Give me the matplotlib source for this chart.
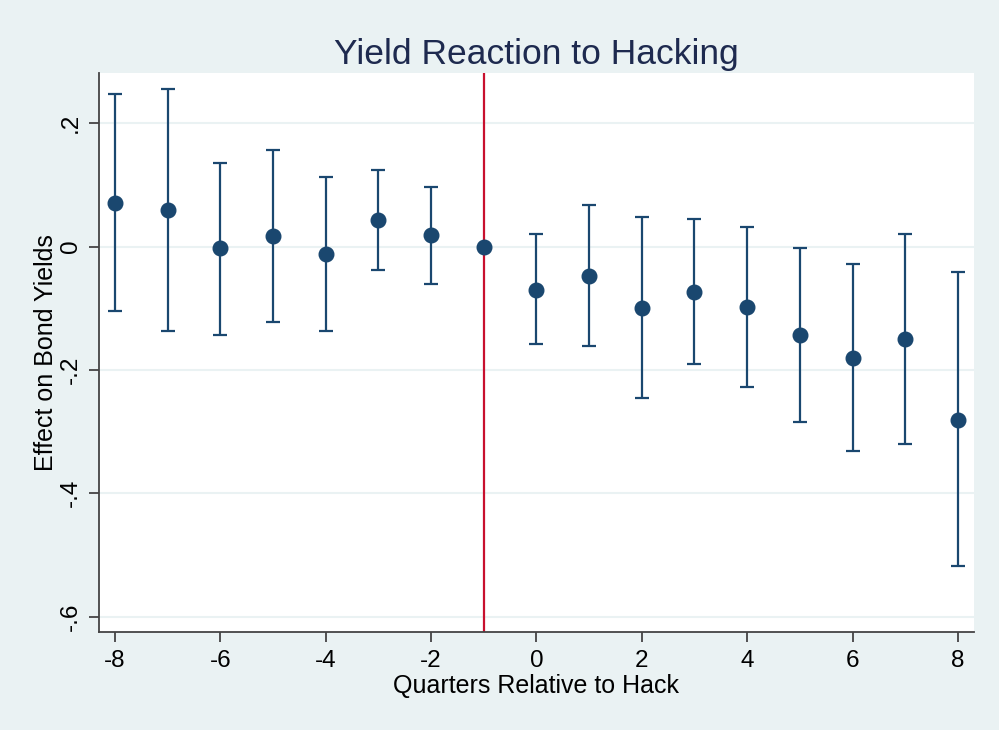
import matplotlib
matplotlib.use("Agg")
import matplotlib.pyplot as plt

# event-study estimates
quarters = [-8, -7, -6, -5, -4, -3, -2, -1, 0, 1, 2, 3, 4, 5, 6, 7, 8]
coef = [0.071, 0.060, -0.003, 0.017, -0.012, 0.043, 0.018, 0.0,
        -0.070, -0.047, -0.099, -0.073, -0.098, -0.143, -0.180, -0.150, -0.281]
ci_hi = [0.248, 0.256, 0.136, 0.156, 0.113, 0.125, 0.097, 0.0,
         0.020, 0.067, 0.048, 0.045, 0.032, -0.002, -0.028, 0.021, -0.042]
ci_lo = [-0.105, -0.137, -0.143, -0.122, -0.137, -0.038, -0.060, 0.0,
         -0.158, -0.161, -0.246, -0.190, -0.228, -0.284, -0.331, -0.320, -0.518]
event_q = -1

xticks = [-8, -6, -4, -2, 0, 2, 4, 6, 8]
yticks = [0.2, 0, -0.2, -0.4, -0.6]
ytick_labels = [".2", "0", "-.2", "-.4", "-.6"]

bg = "#eaf2f3"
navy = "#1a476f"

plt.rcParams["font.family"] = ["Liberation Sans", "DejaVu Sans"]

fig = plt.figure(figsize=(9.99, 7.30), dpi=100, facecolor=bg)
ax = fig.add_axes([0.0991, 0.1347, 0.8756, 0.7657])
ax.set_facecolor("white")

err_lo = [c - l for c, l in zip(coef, ci_lo)]
err_hi = [h - c for c, h in zip(coef, ci_hi)]

ax.axvline(event_q, color="#c8102e", lw=1.6, zorder=2)
ax.errorbar(quarters, coef, yerr=[err_lo, err_hi], fmt="o", color=navy,
            ecolor=navy, elinewidth=1.6, capsize=5, capthick=1.6,
            markersize=10.5, zorder=3)

ax.set_xlim(-8.30, 8.30)
ax.set_ylim(-0.6245, 0.282)
ax.set_xticks(xticks)
ax.set_xticklabels([str(t) for t in xticks])
ax.set_yticks(yticks)
ax.set_yticklabels(ytick_labels, rotation=90, va="center")

ax.grid(axis="y", color=bg, lw=1.5, zorder=0)
ax.set_axisbelow(True)
for side in ["top", "right"]:
    ax.spines[side].set_visible(False)
for side in ["left", "bottom"]:
    ax.spines[side].set_color("#444444")
    ax.spines[side].set_linewidth(1.3)
ax.tick_params(direction="out", length=7.5, width=1.3, color="#444444",
               labelsize=17.5, labelcolor="black")
ax.tick_params(axis="x", pad=6)
ax.tick_params(axis="y", pad=5)

ax.set_xlabel("Quarters Relative to Hack", fontsize=18, labelpad=1)
ax.set_ylabel("Effect on Bond Yields", fontsize=18, labelpad=1)
ax.set_title("Yield Reaction to Hacking", fontsize=25.5, color="#1e2a4f", pad=6)

fig.savefig("out.png", dpi=100, facecolor=bg)
